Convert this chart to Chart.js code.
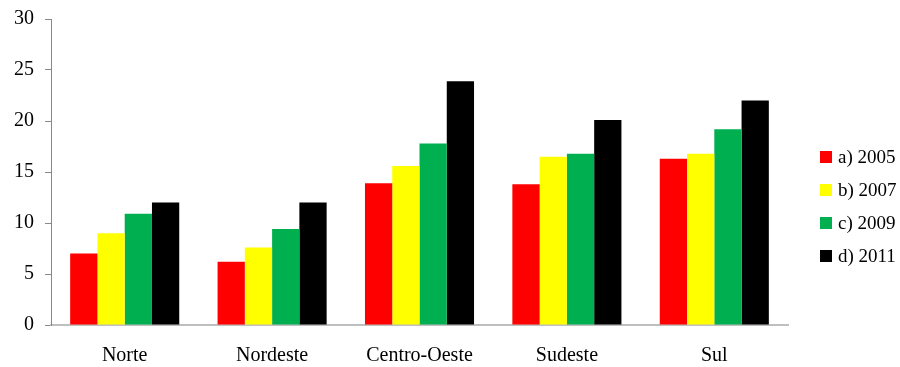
<!DOCTYPE html>
<html>
<head>
<meta charset="utf-8">
<script src="https://cdn.jsdelivr.net/npm/chart.js@4"></script>
<style>
  html, body { margin: 0; padding: 0; background: #fff; }
  #wrap { width: 900px; height: 367px; }
</style>
</head>
<body>
<div id="wrap"><canvas id="c" width="900" height="367"></canvas></div>
<script>
// Regions and yearly values
const regions = ['Norte', 'Nordeste', 'Centro-Oeste', 'Sudeste', 'Sul'];
const seriesLabels = ['a) 2005', 'b) 2007', 'c) 2009', 'd) 2011'];
const values2005 = [7.0, 6.2, 13.9, 13.8, 16.3];
const values2007 = [9.0, 7.6, 15.6, 16.5, 16.8];
const values2009 = [10.9, 9.4, 17.8, 16.8, 19.2];
const values2011 = [12.0, 12.0, 23.9, 20.1, 22.0];
const yTicks = [0, 5, 10, 15, 20, 25, 30];

const colors = ['#ff0000', '#ffff00', '#00b050', '#000000'];
const FONT = '"Liberation Serif", "Times New Roman", serif';

// Legend drawn to the right of the plot area
const sideLegend = {
  id: 'sideLegend',
  afterDraw(chart) {
    const ctx = chart.ctx;
    const x0 = chart.chartArea.right + 32;
    const y0 = 157;
    const gap = 33;
    ctx.save();
    ctx.font = '19px ' + FONT;
    ctx.textBaseline = 'middle';
    ctx.textAlign = 'left';
    chart.data.datasets.forEach((ds, i) => {
      const y = y0 + i * gap;
      ctx.fillStyle = ds.backgroundColor;
      ctx.fillRect(x0, y - 6, 12, 12);
      ctx.fillStyle = '#000';
      ctx.fillText(ds.label, x0 + 18, y + 1);
    });
    ctx.restore();
  }
};

const seriesData = [values2005, values2007, values2009, values2011];

new Chart(document.getElementById('c'), {
  type: 'bar',
  data: {
    labels: regions,
    datasets: seriesLabels.map((lab, i) => ({
      label: lab,
      data: seriesData[i],
      backgroundColor: colors[i],
      borderWidth: 0,
      barPercentage: 1,
      categoryPercentage: 0.74
    }))
  },
  options: {
    responsive: false,
    animation: false,
    devicePixelRatio: 1,
    layout: { padding: { top: 19, right: 112, bottom: 0, left: 0 } },
    plugins: {
      legend: { display: false },
      tooltip: { enabled: false }
    },
    scales: {
      x: {
        grid: { display: false, drawTicks: false },
        border: { display: true, color: '#bfbfbf', width: 2 },
        ticks: { color: '#000', font: { family: FONT, size: 20 }, padding: 19, maxRotation: 0 },
        afterFit(scale) { scale.height = 42; }
      },
      y: {
        min: 0,
        max: 30,
        afterBuildTicks(scale) { scale.ticks = yTicks.map(v => ({ value: v })); },
        grid: { display: true, drawOnChartArea: false, drawTicks: true, tickLength: 6, color: '#888888' },
        border: { display: true, color: '#888888', width: 1 },
        ticks: { color: '#000', font: { family: FONT, size: 20 }, padding: 11 },
        afterFit(scale) {
          scale.width = 51;
          scale.paddingTop = 0;
          scale.paddingBottom = 0;
        }
      }
    }
  },
  plugins: [sideLegend]
});
</script>
</body>
</html>
